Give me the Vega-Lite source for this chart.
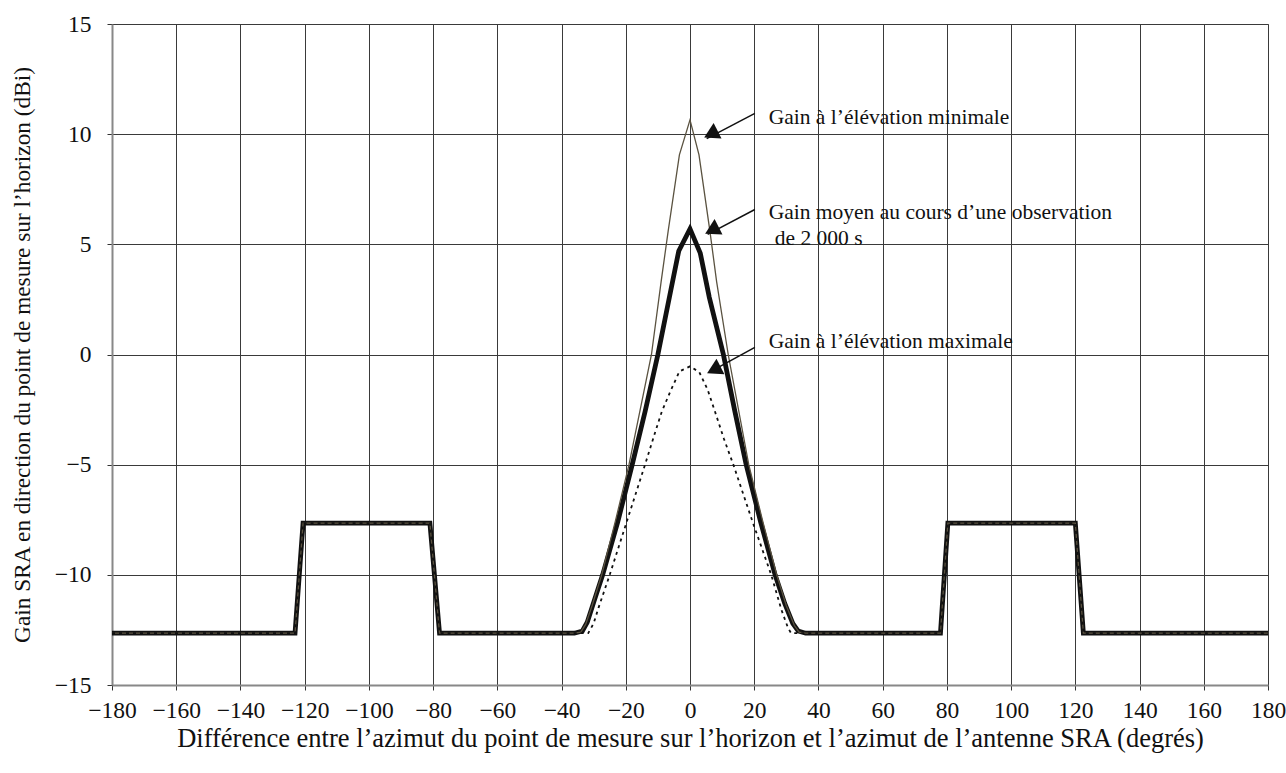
{
  "$schema": "https://vega.github.io/schema/vega-lite/v6.json",
  "autosize": {"type": "none"},
  "padding": {"left": 112, "top": 24, "right": 18, "bottom": 88},
  "width": 1156,
  "height": 661,
  "background": "white",
  "config": {
    "view": {"stroke": "#888", "strokeWidth": 1},
    "font": "Liberation Serif",
    "axis": {
      "labelFont": "Liberation Serif",
      "titleFont": "Liberation Serif",
      "labelFontSize": 23.5,
      "titleFontSize": 21,
      "titleFontWeight": "normal",
      "labelColor": "#111",
      "titleColor": "#111",
      "gridColor": "#3a3a3a",
      "gridOpacity": 1,
      "gridWidth": 1,
      "tickColor": "#333",
      "tickSize": 5,
      "domainColor": "#888",
      "domainWidth": 2,
      "labelFlush": false,
      "labelOverlap": false,
      "labelBound": false
    }
  },
  "datasets": {
    "curves": [
      {"az": -180, "gain": -12.65, "series": "moy"},
      {"az": -123, "gain": -12.65, "series": "moy"},
      {"az": -120.5, "gain": -7.65, "series": "moy"},
      {"az": -81, "gain": -7.65, "series": "moy"},
      {"az": -78, "gain": -12.65, "series": "moy"},
      {"az": -36, "gain": -12.65, "series": "moy"},
      {"az": -33.5, "gain": -12.55, "series": "moy"},
      {"az": -32, "gain": -12.15, "series": "moy"},
      {"az": -30, "gain": -11.25, "series": "moy"},
      {"az": -27.2, "gain": -10, "series": "moy"},
      {"az": -22.5, "gain": -7.6, "series": "moy"},
      {"az": -18, "gain": -5, "series": "moy"},
      {"az": -14, "gain": -2.6, "series": "moy"},
      {"az": -10, "gain": 0, "series": "moy"},
      {"az": -6, "gain": 2.9, "series": "moy"},
      {"az": -3.5, "gain": 4.7, "series": "moy"},
      {"az": 0, "gain": 5.7, "series": "moy"},
      {"az": 3.2, "gain": 4.6, "series": "moy"},
      {"az": 6, "gain": 2.6, "series": "moy"},
      {"az": 10.4, "gain": 0, "series": "moy"},
      {"az": 14, "gain": -2.6, "series": "moy"},
      {"az": 17.5, "gain": -5, "series": "moy"},
      {"az": 22, "gain": -7.6, "series": "moy"},
      {"az": 26.5, "gain": -10, "series": "moy"},
      {"az": 29.5, "gain": -11.3, "series": "moy"},
      {"az": 32, "gain": -12.2, "series": "moy"},
      {"az": 33.7, "gain": -12.55, "series": "moy"},
      {"az": 36, "gain": -12.65, "series": "moy"},
      {"az": 78, "gain": -12.65, "series": "moy"},
      {"az": 80.3, "gain": -7.65, "series": "moy"},
      {"az": 120, "gain": -7.65, "series": "moy"},
      {"az": 122.5, "gain": -12.65, "series": "moy"},
      {"az": 180, "gain": -12.65, "series": "moy"},

      {"az": -180, "gain": -12.65, "series": "min"},
      {"az": -123, "gain": -12.65, "series": "min"},
      {"az": -120.5, "gain": -7.65, "series": "min"},
      {"az": -81, "gain": -7.65, "series": "min"},
      {"az": -78, "gain": -12.65, "series": "min"},
      {"az": -36, "gain": -12.65, "series": "min"},
      {"az": -34, "gain": -12.6, "series": "min"},
      {"az": -32.5, "gain": -12.25, "series": "min"},
      {"az": -30.5, "gain": -11.4, "series": "min"},
      {"az": -27.5, "gain": -10, "series": "min"},
      {"az": -23.3, "gain": -7.6, "series": "min"},
      {"az": -19, "gain": -5, "series": "min"},
      {"az": -12, "gain": 0, "series": "min"},
      {"az": -9, "gain": 3.3, "series": "min"},
      {"az": -6.8, "gain": 5.6, "series": "min"},
      {"az": -3.3, "gain": 9.06, "series": "min"},
      {"az": 0, "gain": 10.65, "series": "min"},
      {"az": 2.8, "gain": 9.06, "series": "min"},
      {"az": 6.2, "gain": 5.6, "series": "min"},
      {"az": 8.3, "gain": 3.3, "series": "min"},
      {"az": 11.9, "gain": 0, "series": "min"},
      {"az": 18.3, "gain": -5, "series": "min"},
      {"az": 22.7, "gain": -7.6, "series": "min"},
      {"az": 27, "gain": -10, "series": "min"},
      {"az": 30, "gain": -11.4, "series": "min"},
      {"az": 32.5, "gain": -12.3, "series": "min"},
      {"az": 34, "gain": -12.6, "series": "min"},
      {"az": 36, "gain": -12.65, "series": "min"},
      {"az": 78, "gain": -12.65, "series": "min"},
      {"az": 80.3, "gain": -7.65, "series": "min"},
      {"az": 120, "gain": -7.65, "series": "min"},
      {"az": 122.5, "gain": -12.65, "series": "min"},
      {"az": 180, "gain": -12.65, "series": "min"},

      {"az": -180, "gain": -12.65, "series": "max"},
      {"az": -123, "gain": -12.65, "series": "max"},
      {"az": -120.5, "gain": -7.65, "series": "max"},
      {"az": -81, "gain": -7.65, "series": "max"},
      {"az": -78, "gain": -12.65, "series": "max"},
      {"az": -36, "gain": -12.65, "series": "max"},
      {"az": -31.7, "gain": -12.65, "series": "max"},
      {"az": -30, "gain": -12.2, "series": "max"},
      {"az": -28.5, "gain": -11.5, "series": "max"},
      {"az": -25, "gain": -10, "series": "max"},
      {"az": -19.5, "gain": -7.5, "series": "max"},
      {"az": -14, "gain": -5, "series": "max"},
      {"az": -11, "gain": -3.6, "series": "max"},
      {"az": -8.8, "gain": -2.6, "series": "max"},
      {"az": -6.2, "gain": -1.7, "series": "max"},
      {"az": -3.3, "gain": -0.77, "series": "max"},
      {"az": 0, "gain": -0.54, "series": "max"},
      {"az": 2.9, "gain": -0.8, "series": "max"},
      {"az": 5.5, "gain": -1.6, "series": "max"},
      {"az": 7.8, "gain": -2.6, "series": "max"},
      {"az": 10.5, "gain": -3.8, "series": "max"},
      {"az": 13.5, "gain": -5, "series": "max"},
      {"az": 19.5, "gain": -7.6, "series": "max"},
      {"az": 25.3, "gain": -10, "series": "max"},
      {"az": 28.5, "gain": -11.6, "series": "max"},
      {"az": 30.5, "gain": -12.4, "series": "max"},
      {"az": 31.5, "gain": -12.65, "series": "max"},
      {"az": 36, "gain": -12.65, "series": "max"},
      {"az": 78, "gain": -12.65, "series": "max"},
      {"az": 80.3, "gain": -7.65, "series": "max"},
      {"az": 120, "gain": -7.65, "series": "max"},
      {"az": 122.5, "gain": -12.65, "series": "max"},
      {"az": 180, "gain": -12.65, "series": "max"}
    ],
    "labels": [
      {"az": 24.5, "gain": 10.47, "label": "Gain à l’élévation minimale"},
      {"az": 24.5, "gain": 6.14, "label": "Gain moyen au cours d’une observation"},
      {"az": 26.4, "gain": 4.98, "label": "de 2 000 s"},
      {"az": 24.5, "gain": 0.29, "label": "Gain à l’élévation maximale"}
    ],
    "arrows": [
      {"az1": 20.2, "g1": 10.94, "az2": 5.2, "g2": 9.8, "haz": 6.5, "hg": 10.0},
      {"az1": 20.2, "g1": 6.58, "az2": 5.5, "g2": 5.45, "haz": 6.8, "hg": 5.64},
      {"az1": 20.2, "g1": 0.32, "az2": 6.1, "g2": -0.8, "haz": 7.4, "hg": -0.7}
    ]
  },
  "layer": [
    {
      "data": {"name": "curves"},
      "transform": [{"filter": "datum.series === 'moy'"}],
      "mark": {"type": "line", "color": "#111", "strokeWidth": 4.8, "strokeJoin": "miter"},
      "encoding": {
        "x": {
          "field": "az", "type": "quantitative",
          "scale": {"domain": [-180, 180], "nice": false, "zero": false},
          "axis": {
            "values": [-180, -160, -140, -120, -100, -80, -60, -40, -20, 0, 20, 40, 60, 80, 100, 120, 140, 160, 180],
            "labelPadding": 8,
            "titlePadding": 4,
            "titleFontSize": 26.5,
            "title": "Différence entre l’azimut du point de mesure sur l’horizon et l’azimut de l’antenne SRA (degrés)"
          }
        },
        "y": {
          "field": "gain", "type": "quantitative",
          "scale": {"domain": [-15, 15], "nice": false, "zero": false},
          "axis": {
            "values": [-15, -10, -5, 0, 5, 10, 15],
            "labelPadding": 16,
            "titlePadding": 20,
            "titleFontSize": 23.3,
            "title": "Gain SRA en direction du point de mesure sur l’horizon (dBi)"
          }
        },
        "order": {"field": "az", "type": "quantitative"}
      }
    },
    {
      "data": {"name": "curves"},
      "transform": [{"filter": "datum.series === 'min'"}],
      "mark": {"type": "line", "color": "#5a5240", "strokeWidth": 1.3},
      "encoding": {
        "x": {"field": "az", "type": "quantitative"},
        "y": {"field": "gain", "type": "quantitative"},
        "order": {"field": "az", "type": "quantitative"}
      }
    },
    {
      "data": {"name": "curves"},
      "transform": [{"filter": "datum.series === 'max'"}],
      "mark": {"type": "line", "color": "#111", "strokeWidth": 1.8, "strokeDash": [3, 4]},
      "encoding": {
        "x": {"field": "az", "type": "quantitative"},
        "y": {"field": "gain", "type": "quantitative"},
        "order": {"field": "az", "type": "quantitative"}
      }
    },
    {
      "data": {"name": "arrows"},
      "mark": {"type": "rule", "color": "#111", "strokeWidth": 1.5},
      "encoding": {
        "x": {"field": "az1", "type": "quantitative"},
        "y": {"field": "g1", "type": "quantitative"},
        "x2": {"field": "az2"},
        "y2": {"field": "g2"}
      }
    },
    {
      "data": {"name": "arrows"},
      "mark": {"type": "point", "shape": "triangle-up", "filled": true, "color": "#111", "opacity": 1, "size": 300, "angle": 243},
      "encoding": {
        "x": {"field": "haz", "type": "quantitative"},
        "y": {"field": "hg", "type": "quantitative"}
      }
    },
    {
      "data": {"name": "labels"},
      "mark": {"type": "text", "align": "left", "baseline": "alphabetic", "font": "Liberation Serif", "fontSize": 21.5, "color": "#111"},
      "encoding": {
        "x": {"field": "az", "type": "quantitative"},
        "y": {"field": "gain", "type": "quantitative"},
        "text": {"field": "label"}
      }
    }
  ]
}
